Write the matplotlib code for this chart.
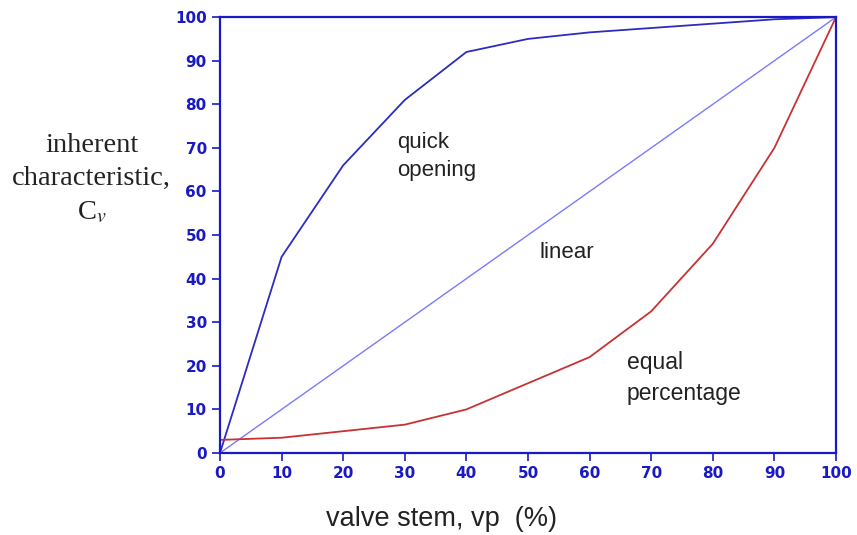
import matplotlib.pyplot as plt
import numpy as np

plt.rcParams['mathtext.fontset'] = 'stix'

# Data
stem = [0, 10, 20, 30, 40, 50, 60, 70, 80, 90, 100]
quick_opening = [0, 45, 66, 81, 92, 95, 96.5, 97.5, 98.5, 99.5, 100]
linear = [0, 10, 20, 30, 40, 50, 60, 70, 80, 90, 100]
equal_pct = [3, 3.5, 5, 6.5, 10, 16, 22, 32.5, 48, 70, 100]
ticks = [0, 10, 20, 30, 40, 50, 60, 70, 80, 90, 100]

axis_blue = '#1a1ac4'
text_col = '#222222'

fig = plt.figure(figsize=(8.57, 5.35), dpi=100)
ax = fig.add_axes([0.2567, 0.1533, 0.7188, 0.8147])

ax.plot(stem, quick_opening, color='#2c2cc0', lw=1.3)
ax.plot(stem, linear, color='#7a7aff', lw=1.0)
ax.plot(stem, equal_pct, color='#c83232', lw=1.3)

ax.set_xlim(0, 100)
ax.set_ylim(0, 100)
ax.set_xticks(ticks)
ax.set_yticks(ticks)
ax.tick_params(colors=axis_blue, direction='out', length=6, width=1.2, labelsize=11)
for lab in ax.get_xticklabels() + ax.get_yticklabels():
    lab.set_fontweight('bold')
    lab.set_color(axis_blue)
for sp in ax.spines.values():
    sp.set_color(axis_blue)
    sp.set_linewidth(1.6)

# Annotations
sans = 'Liberation Sans'
ax.text(28.8, 73.6, 'quick\nopening', fontsize=16, family=sans, va='top', ha='left',
        color=text_col, linespacing=1.45)
ax.text(51.8, 46, 'linear', fontsize=16, family=sans, va='center', ha='left', color=text_col)
ax.text(66, 23.4, 'equal\npercentage', fontsize=16.5, family=sans, va='top', ha='left',
        color=text_col, linespacing=1.45)

fig.text(0.515, 0.03, 'valve stem, vp  (%)', ha='center', va='center',
         family=sans, fontsize=19.5, color=text_col)
fig.text(0.107, 0.665, 'inherent\ncharacteristic,\nC$_v$', ha='center', va='center',
         family='Liberation Serif', fontsize=20.5, color=text_col, linespacing=1.45)

plt.savefig('out.png', dpi=100)
